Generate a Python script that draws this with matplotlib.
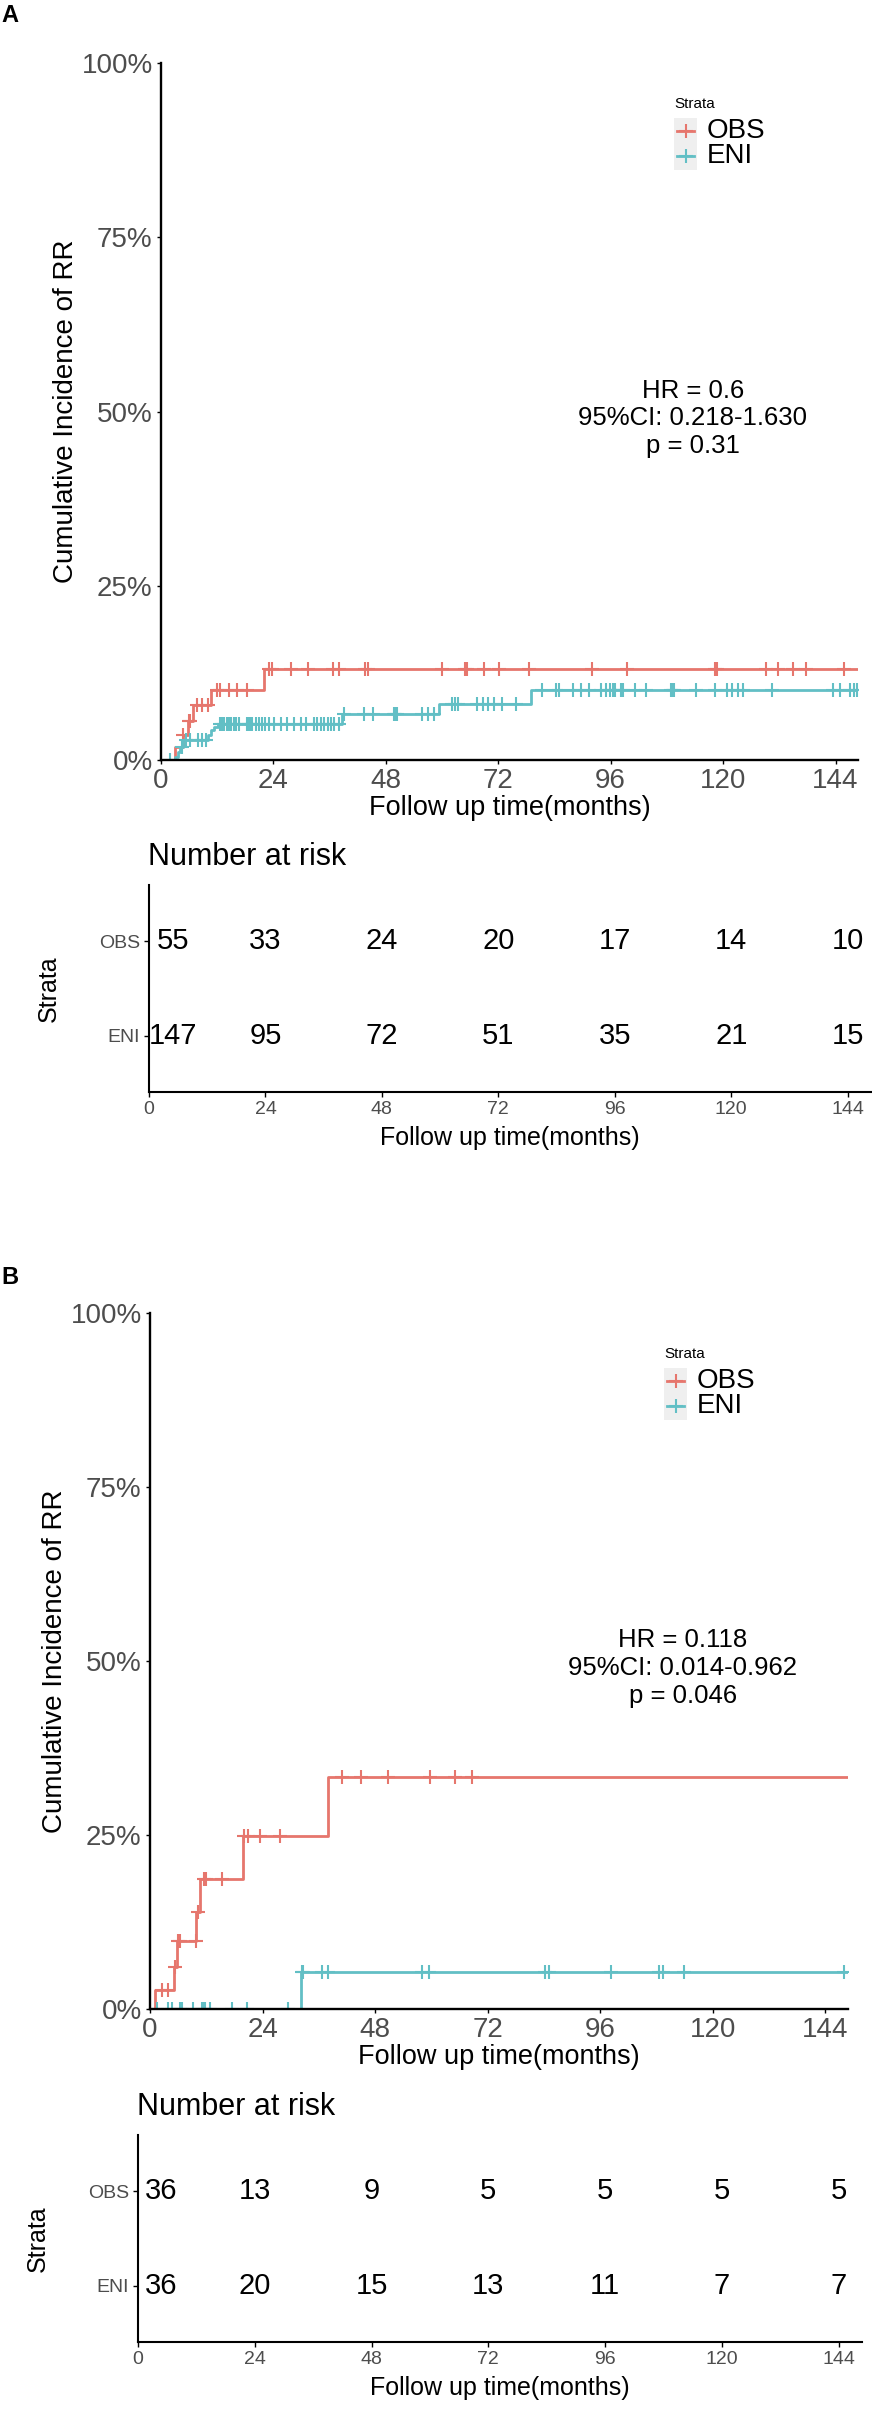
import numpy as np
import matplotlib
matplotlib.use('Agg')
from matplotlib import pyplot as plt
from matplotlib.lines import Line2D
from matplotlib.patches import Rectangle

plt.rcParams['font.family'] = ['Liberation Sans', 'DejaVu Sans']

W, H = 872, 2422
RED = '#E6766D'
TEAL = '#62BFC5'
GREY = '#4D4D4D'

# ---------------- data (months, cumulative incidence in %) ----------------
strata = ['OBS', 'ENI']
risk_times = [0, 24, 48, 72, 96, 120, 144]
x_ticks = [0, 24, 48, 72, 96, 120, 144]
y_ticks = [0, 25, 50, 75, 100]
x_max = 148.8

# panel A
a_obs_t = [0, 3.0, 4.7, 5.7, 6.8, 10.7, 22.0]
a_obs_y = [0, 1.8, 3.6, 5.6, 7.9, 10.1, 13.1]
a_obs_end = 148.7
a_obs_cens = [4.8, 5.9, 6.2, 7.7, 8.7, 10.0, 12.0, 12.5, 14.5, 16.3, 18.3, 23.1, 23.8,
              27.7, 31.3, 36.7, 37.9, 43.5, 44.2, 60.0, 65.0, 65.4, 68.9, 72.2, 78.5,
              92.0, 99.4, 118.2, 118.7, 129.1, 131.7, 135.0, 137.8, 145.8]

a_eni_t = [0, 2.9, 3.6, 4.1, 4.8, 10.0, 10.7, 11.4, 12.1, 38.6, 59.4, 78.9]
a_eni_y = [0, 0.5, 1.2, 1.9, 2.8, 3.6, 4.3, 4.8, 5.2, 6.6, 8.1, 10.1]
a_eni_end = 148.7
a_eni_cens = [1.9, 4.4, 5.4, 6.2, 8.0, 8.7, 9.7, 12.7, 13.1, 13.4, 14.0, 14.5, 15.0,
              15.5, 16.1, 16.6, 18.4, 18.8, 19.1, 19.5, 20.2, 20.9, 21.6, 22.3, 23.1,
              24.1, 25.6, 27.0, 28.4, 29.9, 30.9, 32.7, 33.4, 34.2, 34.9, 35.6, 36.3,
              37.0, 38.1, 39.0, 43.3, 45.3, 49.8, 50.0, 50.4, 55.8, 57.0, 58.2, 62.2,
              62.8, 63.4, 67.5, 68.7, 69.9, 71.1, 72.8, 75.8, 81.4, 84.3, 84.9, 87.9,
              89.6, 91.4, 94.0, 95.0, 95.8, 96.4, 96.9, 98.3, 98.6, 101.1, 103.5, 108.8,
              109.2, 109.5, 114.2, 118.2, 120.9, 121.9, 123.2, 124.3, 130.5, 143.5,
              144.9, 147.0, 147.9, 148.6]

a_risk_obs = [55, 33, 24, 20, 17, 14, 10]
a_risk_eni = [147, 95, 72, 51, 35, 21, 15]
a_stats = 'HR = 0.6\n95%CI: 0.218-1.630\np = 0.31'

# panel B
b_obs_t = [0, 1.1, 5.1, 5.7, 9.9, 10.7, 19.9, 38.0]
b_obs_y = [0, 2.8, 6.0, 9.7, 14.0, 18.7, 24.8, 33.4]
b_obs_end = 148.7
b_obs_cens = [2.5, 3.9, 5.3, 5.9, 6.4, 9.8, 10.3, 11.6, 12.0, 15.3, 20.0, 20.9, 23.4,
              27.7, 41.0, 45.0, 50.8, 59.7, 65.0, 68.6]

b_eni_t = [0, 32.1]
b_eni_y = [0, 5.3]
b_eni_end = 148.7
b_eni_cens = [1.4, 3.9, 4.6, 6.4, 6.8, 9.2, 11.0, 11.4, 11.7, 12.8, 17.4, 20.6, 29.5,
              32.3, 32.7, 36.6, 38.0, 57.9, 59.4, 84.3, 85.1, 98.2, 108.5, 109.3, 113.9,
              148.0]

b_risk_obs = [36, 13, 9, 5, 5, 5, 5]
b_risk_eni = [36, 20, 15, 13, 11, 7, 7]
b_stats = 'HR = 0.118\n95%CI: 0.014-0.962\np = 0.046'


def box(l, t, r, b):
    return [l / W, (H - b) / H, (r - l) / W, (b - t) / H]


def ftext(x, y, s, **kw):
    fig.text(x / W, 1 - y / H, s, **kw)


def draw_curve(ax, t, y, end, cens, color):
    t = np.array(t)
    y = np.array(y)
    ax.step(np.append(t, end), np.append(y, y[-1]), where='post', color=color, lw=2.0)
    cens = np.array(cens)
    idx = np.searchsorted(t, cens, side='right') - 1
    ax.plot(cens, y[idx], ls='none', marker='+', ms=10, mew=1.5, color=color)


def panel(main_px, risk_px, curves, risk_obs, risk_eni, stats, letter, off):
    ax = fig.add_axes(box(*main_px))
    for t, y, end, cens, col in curves:
        draw_curve(ax, t, y, end, cens, col)
    ax.set_xlim(0, x_max)
    ax.set_ylim(0, 100)
    ax.set_xticks(x_ticks)
    ax.set_yticks(y_ticks)
    ax.set_yticklabels(['%d%%' % v for v in y_ticks])
    for s in ['top', 'right']:
        ax.spines[s].set_visible(False)
    for s in ['left', 'bottom']:
        ax.spines[s].set_linewidth(1.7)
    ax.tick_params(labelsize=20, colors=GREY, length=3, width=1, pad=3)
    ax.tick_params(color='black')

    # legend
    ax.text(0.737, 0.941, 'Strata', transform=ax.transAxes, fontsize=11, va='center')
    ax.add_patch(Rectangle((0.736, 0.846), 0.033, 0.075, transform=ax.transAxes,
                           facecolor='#EFEFEF', edgecolor='none'))
    for lab, col, yy in [('OBS', RED, 0.902), ('ENI', TEAL, 0.866)]:
        ax.add_line(Line2D([0.741, 0.765], [yy, yy], transform=ax.transAxes,
                           color=col, lw=2.0))
        ax.add_line(Line2D([0.753], [yy], transform=ax.transAxes, color=col,
                           marker='+', ms=10, mew=1.5))
        ax.text(0.783, yy, lab, transform=ax.transAxes, fontsize=20, va='center')

    ax.text(0.763, 0.49, stats, transform=ax.transAxes, fontsize=18.5,
            ha='center', va='center', linespacing=1.2)

    l, t, r, b = main_px
    ftext((l + r) / 2, b + 48, 'Follow up time(months)', fontsize=19.5,
          ha='center', va='center')
    ftext(l - 95, (t + b) / 2, 'Cumulative Incidence of RR', fontsize=20,
          rotation=90, ha='center', va='center')
    ftext(1, off, letter, fontsize=17, fontweight='bold', va='center')

    # risk table
    rx = fig.add_axes(box(*risk_px))
    rx.set_xlim(0, x_max)
    rx.set_ylim(0.4, 2.6)
    rx.set_xticks(x_ticks)
    rx.set_yticks([2, 1])
    rx.set_yticklabels(strata)
    for s in ['top', 'right']:
        rx.spines[s].set_visible(False)
    for s in ['left', 'bottom']:
        rx.spines[s].set_linewidth(1.5)
    rx.tick_params(labelsize=14, colors=GREY, length=3.5, width=1, pad=3)
    rx.tick_params(color='black')
    for row, vals in [(2, risk_obs), (1, risk_eni)]:
        for i, (tt, n) in enumerate(zip(risk_times, vals)):
            shift = 17 if i == 0 else 0
            rx.annotate(str(n), (tt, row), xytext=(shift, 0), textcoords='offset points',
                        ha='center', va='center', fontsize=21)
    l, t, r, b = risk_px
    ftext(l - 1, t - 28, 'Number at risk', fontsize=22, va='center')
    ftext((l + r) / 2, b + 46, 'Follow up time(months)', fontsize=18,
          ha='center', va='center')
    ftext(l - 100, (t + b) / 2, 'Strata', fontsize=18, rotation=90,
          ha='center', va='center')


fig = plt.figure(figsize=(W / 100, H / 100), dpi=100)

panel((161, 63, 858, 760), (149, 885, 871, 1092),
      [(a_obs_t, a_obs_y, a_obs_end, a_obs_cens, RED),
       (a_eni_t, a_eni_y, a_eni_end, a_eni_cens, TEAL)],
      a_risk_obs, a_risk_eni, a_stats, 'A', 15)

panel((150, 1313, 848, 2009), (138, 2135, 862, 2342),
      [(b_obs_t, b_obs_y, b_obs_end, b_obs_cens, RED),
       (b_eni_t, b_eni_y, b_eni_end, b_eni_cens, TEAL)],
      b_risk_obs, b_risk_eni, b_stats, 'B', 1277)

fig.savefig('out.png', dpi=100)
